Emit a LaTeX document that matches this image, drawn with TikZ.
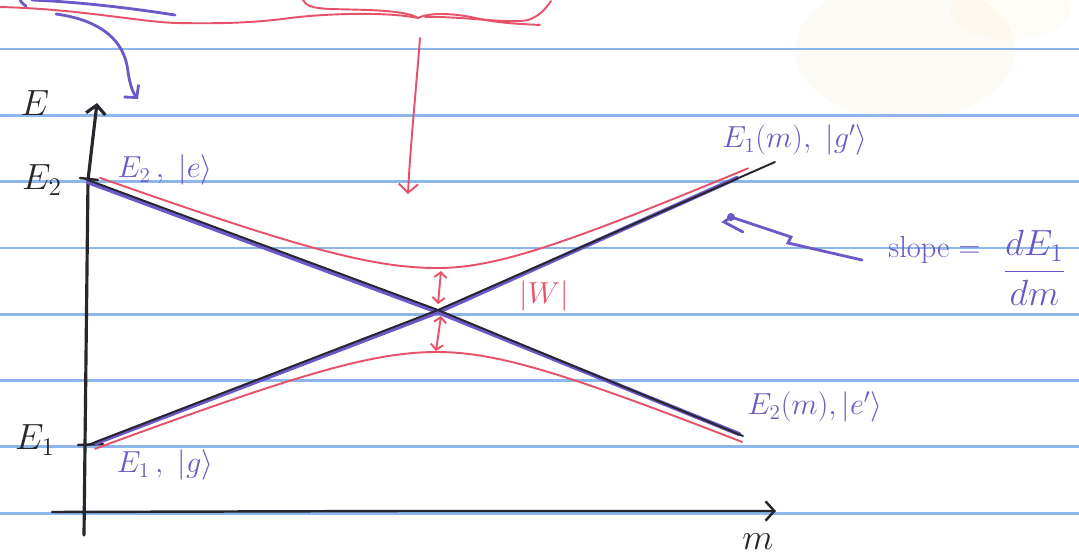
\documentclass[tikz,border=0pt]{standalone}
\usetikzlibrary{arrows.meta,calc}
\definecolor{ruleblue}{RGB}{140,182,236}
\definecolor{pen}{RGB}{108,88,200}
\definecolor{redpen}{RGB}{232,82,105}
\definecolor{ink}{RGB}{38,38,44}
\definecolor{stain}{RGB}{240,215,140}
\begin{document}
\begin{tikzpicture}[x=0.02cm,y=-0.02cm,
  rule/.style={ruleblue, line width=1.6pt},
  axisline/.style={ink, line width=1.8pt, line cap=round},
  blackline/.style={ink, line width=1.1pt, line cap=round},
  purpleline/.style={pen, line width=2pt, line cap=round},
  redline/.style={redpen, line width=1.1pt, line cap=round},
  barb/.style={-{Straight Barb[length=5pt,width=11pt]}},
  dbarb/.style={{Straight Barb[length=3pt,width=7pt]}-{Straight Barb[length=3pt,width=7pt]}},
  lbl/.style={inner sep=0pt},
]
\useasboundingbox (0,0) rectangle (1079,556);
\fill[white] (0,0) rectangle (1079,556);
% paper stain
\fill[stain, opacity=0.08] (905,50) ellipse [x radius=110, y radius=70];
\fill[stain, opacity=0.07] (1010,10) ellipse [x radius=60, y radius=30];
% ruled lines
\foreach \k in {0,...,7}
  \draw[rule] (0,{49+66.3*\k}) -- (1079,{49+66.3*\k});

% key points
\coordinate (E2pt) at (88,180);
\coordinate (E1pt) at (88,445);
\coordinate (X) at (438,310);
\coordinate (E1end) at (775,162);
\coordinate (E2end) at (743,436);
\coordinate (Ybot) at (84,535);
\coordinate (Ytop) at (97,103);
\coordinate (Xleft) at (52,512);
\coordinate (Xright) at (776,511);

% top strokes (partially visible)
\draw[redline] (0,7) .. controls (80,9) and (140,22) .. (177,23)
  .. controls (230,24) and (260,22) .. (290,18)
  .. controls (330,13) and (390,12) .. (418,18);
\draw[redline] (303,0) .. controls (306,6) and (312,8) .. (330,9)
  .. controls (370,10) and (405,10) .. (418,18);
\draw[redline] (418,18) .. controls (430,12) and (455,13) .. (480,19)
  .. controls (505,24) and (525,24) .. (540,25);
\draw[redline] (425,17) .. controls (460,16) and (510,24) .. (528,20)
  .. controls (540,16) and (546,8) .. (551,1);
\draw[purpleline, line width=1.6pt] (20,0) .. controls (22,3) and (24,5) .. (26,6);
\draw[purpleline, line width=1.6pt] (32,0) .. controls (80,2) and (130,8) .. (175,15);
\coordinate (purpStart) at (56,14);
\coordinate (purpTip) at (138,99);
\draw[purpleline, line width=1.6pt, barb] (purpStart) .. controls (100,20) and (125,40) .. (128,72)
  .. controls (130,85) and (133,93) .. (purpTip);
\coordinate (redStart) at (420,38);
\coordinate (redTip) at (408,194);
\draw[redline, barb] (redStart) .. controls (416,90) and (410,150) .. (redTip);

% axes
\draw[axisline, barb] (Ybot) -- (88,180) -- (Ytop);
\draw[axisline, line width=1.4pt, barb] (Xleft) -- (400,511) -- (Xright);
\draw[axisline, line width=1.4pt] (80,178) -- (98,180);
\draw[axisline, line width=1.4pt] (78,445) -- (103,444);

% purple lines (under black)
\draw[purpleline, line width=2.4pt] ([yshift=-1.2pt]E2pt) -- ([yshift=-1.2pt]X) -- ($(E2end)+(-4,-2)$);
\draw[purpleline, line width=2.4pt] ($(E1pt)+(8,-2)$) -- ([yshift=-1.2pt]X) -- ($(E1end)+(-38,16)$);

% red anticrossing curves
\draw[redline] plot[domain=100:437, samples=60, smooth] (\x, {310 - 10*sqrt((0.0372*(437-\x))^2 + 4.2^2)});
\draw[redline] plot[domain=437:748, samples=60, smooth] (\x, {310 - 10*sqrt((0.0435*(\x-437))^2 + 4.2^2)});
\draw[redline] plot[domain=95:437, samples=60, smooth] (\x, {310 + 10*sqrt((0.0387*(437-\x))^2 + 4.2^2)});
\draw[redline] plot[domain=437:742, samples=60, smooth] (\x, {310 + 10*sqrt((0.041*(\x-437))^2 + 4.2^2)});

% black diabatic lines
\draw[blackline] (E2pt) -- (X) -- (E2end);
\draw[blackline] (E1pt) -- (X) -- (E1end);

% gap arrows
\coordinate (upGap) at (441,271);
\coordinate (loGap) at (436,351);
\draw[redline, dbarb] (upGap) -- ($(X)+(0,-6)$);
\draw[redline, dbarb] ($(X)+(3,6)$) -- (loGap);

% slope pointer
\coordinate (slopeTail) at (862,260);
\coordinate (slopeTip) at (731,217);
\draw[purpleline, line width=1.6pt] (slopeTail) -- (788,243) -- (791,237) -- (slopeTip)
  -- (724,222) -- (743,232);
\fill[pen] (slopeTip) circle (4);

% labels
\node[lbl, ink, font=\huge] (Elab) at (35,103) {$E$};
\node[lbl, ink, font=\huge] (E2lab) at (42,180) {$E_2$};
\node[lbl, ink, font=\huge] (E1lab) at (35,440) {$E_1$};
\node[lbl, pen, font=\LARGE] (E2state) at (165,170) {$E_2\,,\ |e\rangle$};
\node[lbl, pen, font=\LARGE] (E1state) at (165,465) {$E_1\,,\ |g\rangle$};
\node[lbl, pen, font=\LARGE] (E1m) at (795,140) {$E_1(m),\ |g'\rangle$};
\node[lbl, pen, font=\LARGE] (E2m) at (815,407) {$E_2(m),|e'\rangle$};
\node[lbl, redpen, font=\LARGE] (W) at (544,296) {$|W|$};
\node[lbl, pen, font=\LARGE, anchor=west] (slope) at (888,250) {slope $=$};
\node[lbl, pen, font=\huge, anchor=west] (frac) at (1003,268) {$\displaystyle\frac{dE_1}{dm}$};
\node[lbl, ink, font=\huge] (mlab) at (758,542) {$m$};
\end{tikzpicture}
\end{document}
